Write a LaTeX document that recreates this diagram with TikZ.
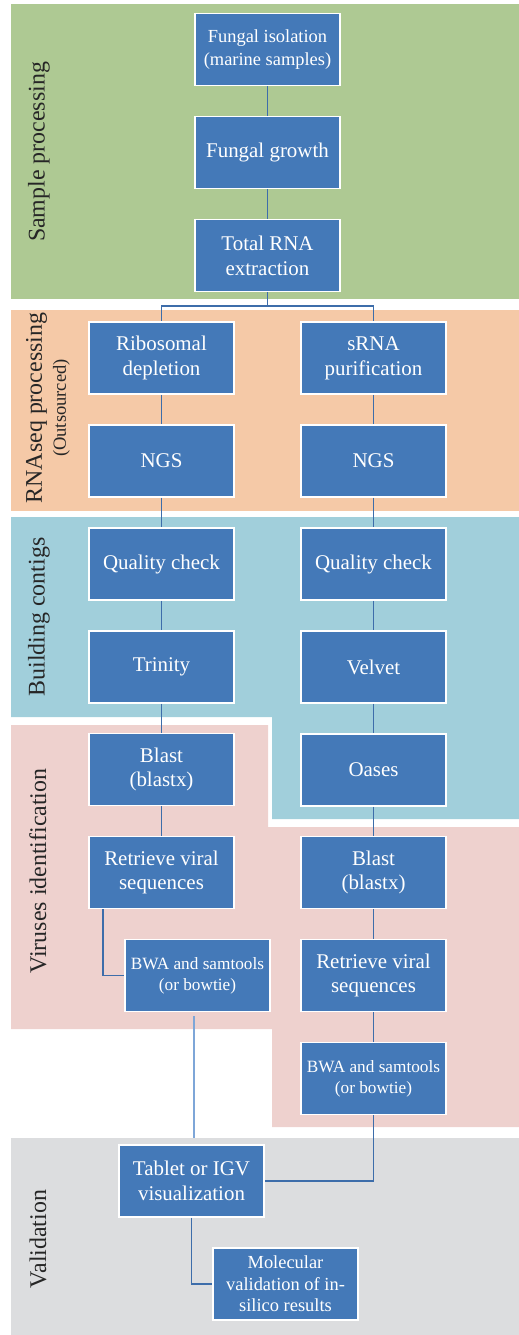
\documentclass[tikz,border=0pt]{standalone}
\usepackage{fontspec}
\setmainfont{Liberation Serif}
\definecolor{bgreen}{HTML}{AEC993}
\definecolor{borange}{HTML}{F5C9A7}
\definecolor{bteal}{HTML}{A1CFDB}
\definecolor{bpink}{HTML}{EED1CE}
\definecolor{bgray}{HTML}{DCDDDF}
\definecolor{boxblue}{HTML}{4479B8}
\definecolor{conn}{HTML}{3D6DAA}
\definecolor{connlight}{HTML}{7EA6D8}
\definecolor{labtext}{HTML}{262626}
\tikzset{
  stepbox/.style={fill=boxblue, draw=white, line width=1.5bp, text=white,
    minimum width=145bp, minimum height=72bp, inner sep=2bp, align=center,
    font=\fontsize{21}{25}\selectfont},
  smallbox/.style={stepbox, font=\fontsize{18.5}{23}\selectfont},
  tinybox/.style={stepbox, font=\fontsize{17.3}{21}\selectfont},
  molbox/.style={stepbox, font=\fontsize{18.5}{21.7}\selectfont},
  bandlabel/.style={rotate=90, text=labtext, align=center, font=\fontsize{24}{28}\selectfont},
  link/.style={draw=conn, line width=1.6bp},
}
\begin{document}
\begin{tikzpicture}[x=1bp,y=-1bp]
\useasboundingbox (0,0) rectangle (519,1335);
% bands
\fill[bgreen] (11,4) rectangle (519,299);
\fill[borange] (11,310) rectangle (519,511);
\fill[bteal] (11,517) -- (519,517) -- (519,819) -- (272,819) -- (272,717) -- (11,717) -- cycle;
\fill[bpink] (11,725) -- (268,725) -- (268,827) -- (519,827) -- (519,1127) -- (272,1127) -- (272,1029) -- (11,1029) -- cycle;
\fill[bgray] (11,1138) rectangle (519,1335);
% band labels
\node[bandlabel] (lsample) at (39,152) {Sample processing};
\node[bandlabel] (lrna) at (48,408) {RNAseq processing\\[-4bp]{\fontsize{18.6}{20}\selectfont (Outsourced)}};
\node[bandlabel] (lbuild) at (39,617) {Building contigs};
\node[bandlabel] (lvir) at (38,871) {Viruses identification};
\node[bandlabel] (lval) at (38,1239) {Validation};
% boxes
\node[smallbox] (iso) at (267.5,49.5) {Fungal isolation\\(marine samples)};
\node[stepbox] (grow) at (267.5,152.5) {Fungal growth};
\node[stepbox] (rna) at (267.5,255.5) {Total RNA\\extraction};
\node[stepbox] (ribo) at (161.5,358) {Ribosomal\\depletion};
\node[stepbox] (srna) at (373.5,358) {sRNA\\purification};
\node[stepbox] (ngsL) at (161.5,461) {NGS};
\node[stepbox] (ngsR) at (373.5,461) {NGS};
\node[stepbox] (qcL) at (161.5,564) {Quality check};
\node[stepbox] (qcR) at (373.5,564) {Quality check};
\node[stepbox] (trin) at (161.5,667) {Trinity};
\node[stepbox] (velv) at (373.5,667) {Velvet};
\node[stepbox] (blastL) at (161.5,769.5) {Blast\\(blastx)};
\node[stepbox] (oases) at (373.5,770) {Oases};
\node[stepbox] (retL) at (161.5,872.5) {Retrieve viral\\sequences};
\node[stepbox] (blastR) at (373.5,872.5) {Blast\\(blastx)};
\node[tinybox] (bwaL) at (197.5,975.5) {BWA and samtools\\(or bowtie)};
\node[stepbox] (retR) at (373.5,975.5) {Retrieve viral\\sequences};
\node[tinybox] (bwaR) at (373.5,1078.5) {BWA and samtools\\(or bowtie)};
\node[stepbox] (tab) at (191.5,1181) {Tablet or IGV\\visualization};
\node[molbox] (mol) at (285.5,1284) {Molecular\\validation of in-\\silico results};
% connectors
\draw[link] (iso) -- (grow);
\draw[link] (grow) -- (rna);
\coordinate (split) at (267.5,306);
\draw[link] (rna.south) -- (split) -| (ribo.north);
\draw[link] (split) -| (srna.north);
\draw[link] (ribo) -- (ngsL);
\draw[link] (srna) -- (ngsR);
\draw[link] (ngsL) -- (qcL);
\draw[link] (ngsR) -- (qcR);
\draw[link] (qcL) -- (trin);
\draw[link] (qcR) -- (velv);
\draw[link] (trin) -- (blastL);
\draw[link] (velv) -- (oases);
\draw[link] (blastL) -- (retL);
\draw[link] (oases) -- (blastR);
\draw[link] ([xshift=15bp]retL.south west) |- (bwaL.west);
\draw[link] (blastR) -- (retR);
\draw[link] (retR) -- (bwaR);
\draw[draw=connlight, line width=1.6bp, shorten <=4bp, shorten >=6bp] ([xshift=-3.5bp]bwaL.south) -- ([xshift=-3.5bp]bwaL.south |- tab.north);
\draw[link] (bwaR.south) |- (tab.east);
\draw[link] (tab.south) |- (mol.west);
\end{tikzpicture}
\end{document}
